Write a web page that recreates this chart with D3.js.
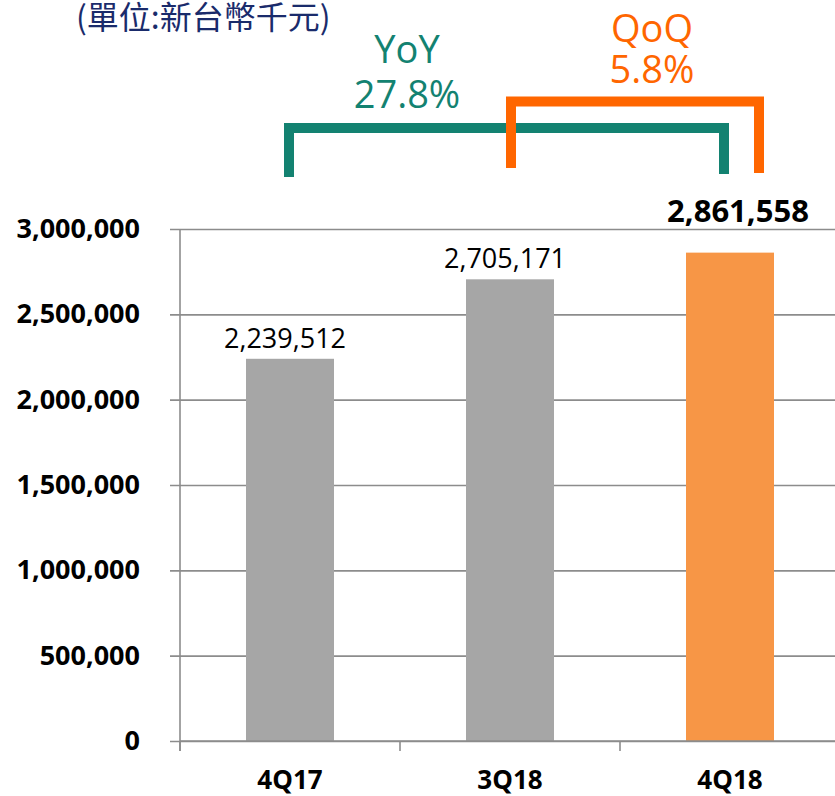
<!DOCTYPE html>
<html>
<head>
<meta charset="utf-8">
<script src="https://cdn.jsdelivr.net/npm/d3@7"></script>
<style>
  body { margin: 0; background: #fff; }
  svg { display: block; }
</style>
</head>
<body>
<div id="chart"></div>
<script>
// data
const quarters = ["4Q17", "3Q18", "4Q18"];
const revenue = [2239512, 2705171, 2861558];
const yTicks = [0, 500000, 1000000, 1500000, 2000000, 2500000, 3000000];
const growthNames = ["YoY", "QoQ"];
const growthValues = ["27.8%", "5.8%"];
const unitLabel = "(單位:新台幣千元)";

const width = 835, height = 796;
const plot = { left: 180, right: 840, top: 229, bottom: 741 };

const svg = d3.select("#chart").append("svg")
  .attr("width", width)
  .attr("height", height);

const x = d3.scaleBand()
  .domain(quarters)
  .range([plot.left, plot.right])
  .paddingInner(0.6)
  .paddingOuter(0.3);

const y = d3.scaleLinear()
  .domain([0, 3000000])
  .range([plot.bottom, plot.top]);

const gridColor = "#8c8c8c";
const fmt = d3.format(",");

// horizontal gridlines + y labels
const yAxis = svg.append("g")
  .attr("transform", `translate(${plot.left},0)`)
  .call(d3.axisLeft(y).tickValues(yTicks).tickSize(10).tickSizeOuter(0).tickPadding(30).tickFormat(fmt));
yAxis.select(".domain").remove();
yAxis.selectAll(".tick line").attr("stroke", gridColor).attr("stroke-width", 1.6)
  .attr("x1", -10).attr("x2", width - plot.left);
yAxis.selectAll(".tick text")
  .attr("font-family", "'Open Sans', sans-serif")
  .attr("font-weight", "bold")
  .attr("font-size", 27)
  .attr("fill", "#000")
  .attr("dy", "0.32em");

// y axis line
svg.append("line")
  .attr("x1", plot.left).attr("x2", plot.left)
  .attr("y1", y(3000000)).attr("y2", plot.bottom + 10)
  .attr("stroke", gridColor).attr("stroke-width", 1.6);

// bars
const barColor = (d, i) => i === quarters.length - 1 ? "#f79646" : "#a6a6a6";
svg.selectAll(".bar")
  .data(revenue)
  .enter()
  .append("rect")
  .attr("class", "bar")
  .attr("x", (d, i) => x(quarters[i]))
  .attr("y", d => y(d))
  .attr("width", x.bandwidth())
  .attr("height", d => y(0) - y(d))
  .attr("fill", barColor);

// x axis (category boundaries as ticks)
const xAxis = svg.append("g")
  .attr("transform", `translate(0,${plot.bottom})`);
xAxis.append("line")
  .attr("x1", plot.left).attr("x2", width)
  .attr("stroke", gridColor).attr("stroke-width", 1.6);
const bounds = quarters.map(q => x(q) - x.step() * x.paddingOuter()).concat([plot.right]);
xAxis.selectAll(".xtick")
  .data(bounds)
  .enter()
  .append("line")
  .attr("x1", d => d).attr("x2", d => d)
  .attr("y1", 0).attr("y2", 10)
  .attr("stroke", gridColor).attr("stroke-width", 1.6);
xAxis.selectAll(".xlabel")
  .data(quarters)
  .enter()
  .append("text")
  .attr("x", d => x(d) + x.bandwidth() / 2)
  .attr("y", 48)
  .attr("text-anchor", "middle")
  .attr("font-family", "'Open Sans', sans-serif")
  .attr("font-weight", "bold")
  .attr("font-size", 26)
  .text(d => d);

// value labels
svg.selectAll(".vlabel")
  .data(revenue)
  .enter()
  .append("text")
  .attr("x", (d, i) => x(quarters[i]) + x.bandwidth() / 2 + (i === quarters.length - 1 ? 8 : -5))
  .attr("y", (d, i) => i === quarters.length - 1 ? y(d) - 31 : y(d) - 11)
  .attr("text-anchor", "middle")
  .attr("font-family", "'Open Sans', sans-serif")
  .attr("font-weight", (d, i) => i === quarters.length - 1 ? "bold" : "normal")
  .attr("font-size", (d, i) => i === quarters.length - 1 ? 31 : 27)
  .attr("fill", "#000")
  .text(d => fmt(d));

// unit label
svg.append("text")
  .attr("x", 76).attr("y", 29)
  .attr("font-family", "'Noto Sans CJK TC', sans-serif")
  .attr("font-size", 32)
  .attr("fill", "#1a2b6b")
  .text(unitLabel);

// growth brackets
const cx = q => x(q) + x.bandwidth() / 2;
const teal = "#138271", orange = "#ff6600";

svg.append("path")
  .attr("d", `M${cx("4Q17") - 1},177 V128 H${cx("4Q18") - 6} V174`)
  .attr("fill", "none").attr("stroke", teal).attr("stroke-width", 10)
  .attr("stroke-linejoin", "miter");

svg.append("path")
  .attr("d", `M${cx("3Q18") + 1},168 V101.5 H${cx("4Q18") + 29} V173`)
  .attr("fill", "none").attr("stroke", orange).attr("stroke-width", 10)
  .attr("stroke-linejoin", "miter");

// growth text
const growthPos = [
  { x: 407, y1: 63, y2: 108, color: teal },
  { x: 652, y1: 42, y2: 83, color: orange }
];
growthNames.forEach((name, i) => {
  const p = growthPos[i];
  svg.append("text")
    .attr("x", p.x).attr("y", p.y1)
    .attr("text-anchor", "middle")
    .attr("font-family", "'Open Sans', sans-serif")
    .attr("font-size", 38)
    .attr("fill", p.color)
    .text(name);
  svg.append("text")
    .attr("x", p.x).attr("y", p.y2)
    .attr("text-anchor", "middle")
    .attr("font-family", "'Open Sans', sans-serif")
    .attr("font-size", 38)
    .attr("fill", p.color)
    .text(growthValues[i]);
});
</script>
</body>
</html>
